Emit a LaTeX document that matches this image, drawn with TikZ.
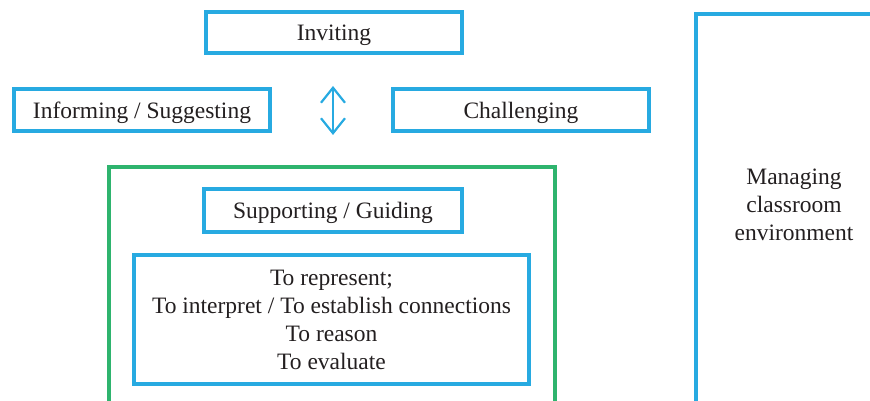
\documentclass[tikz,border=0pt]{standalone}
\usepackage{fontspec}
\setmainfont{Liberation Serif}
\usetikzlibrary{arrows.meta}
\definecolor{cblue}{RGB}{39,170,225}
\definecolor{cgreen}{RGB}{46,180,110}
\definecolor{ctext}{RGB}{35,31,32}
\begin{document}
\begin{tikzpicture}[x=1pt,y=1pt,
  txt/.style={font=\fontsize{23.5}{28}\selectfont, text=ctext, align=center, inner sep=0pt},
  bbox/.style={draw=cblue, line width=3.6pt, txt},
  oneline/.style={text height=17pt, text depth=0pt},
  gbox/.style={draw=cgreen, line width=3.6pt}]
\useasboundingbox (0,0) rectangle (870,401);
\begin{scope}
\clip (0,0) rectangle (870,401);
% green frame
\draw[gbox] (109,-1.6) rectangle (555,234);
% right box
\node[bbox, minimum width=206pt, minimum height=420pt, anchor=north west] (manage) at (694,389) {};
\node[txt] (managetxt) at (794,196) {Managing\\classroom\\environment};
\end{scope}
\node[bbox, oneline, minimum width=256pt, minimum height=41pt] (invite) at (334,368.5) {Inviting};
\node[bbox, oneline, minimum width=256pt, minimum height=42pt] (inform) at (142,291) {Informing / Suggesting};
\node[bbox, oneline, minimum width=256pt, minimum height=42pt] (chall) at (521,291) {Challenging};
\node[bbox, oneline, minimum width=258pt, minimum height=43pt] (support) at (333,190.5) {Supporting / Guiding};
\node[bbox, minimum width=395pt, minimum height=129pt] (skills) at (331.5,81.5) {To represent;\\To interpret / To establish connections\\To reason\\To evaluate};
\coordinate (atop) at (333,315);
\coordinate (abot) at (333,266);
\draw[cblue, line width=2.2pt, {Straight Barb[length=15pt,width=24pt]}-{Straight Barb[length=15pt,width=24pt]}] (abot) -- (atop);
\end{tikzpicture}
\end{document}
